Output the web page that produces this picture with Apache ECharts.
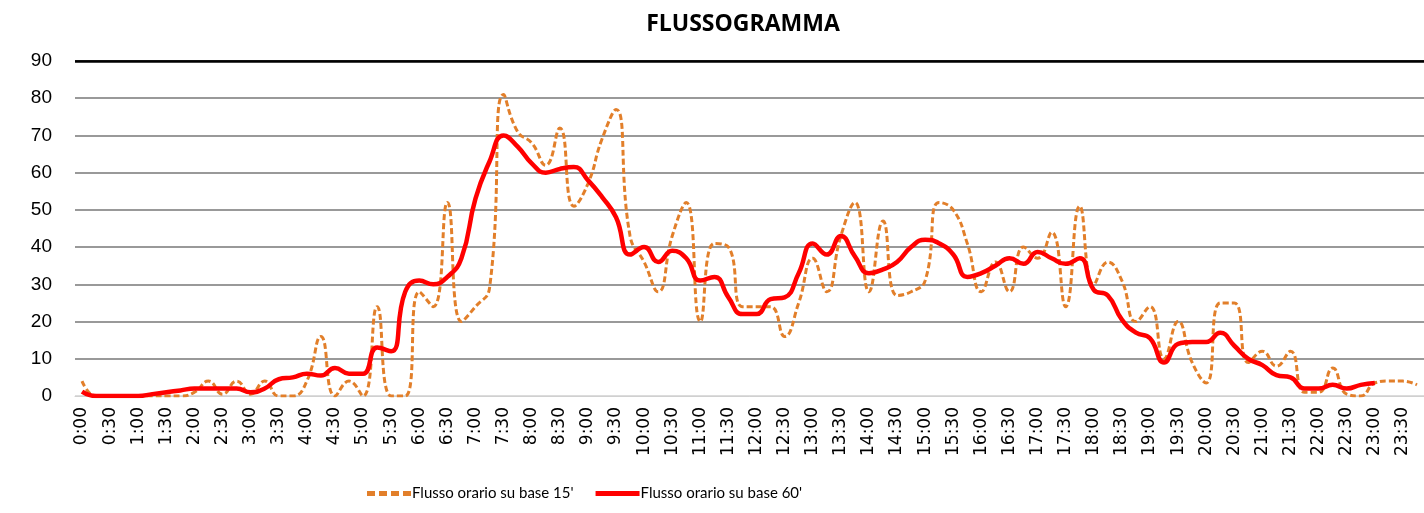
<!DOCTYPE html>
<html>
<head>
<meta charset="utf-8">
<script src="https://cdn.jsdelivr.net/npm/echarts@6/dist/echarts.min.js"></script>
<style>
  html, body { margin: 0; padding: 0; background: #fff; }
  #container { width: 1424px; height: 513px; }
</style>
</head>
<body>
<div id="container"></div>
<script>
var dom = document.getElementById("container");
var myChart = echarts.init(dom);

// orari ogni 15 minuti
var orari = [];
for (var h = 0; h < 24; h++) {
    ['00', '15', '30', '45'].forEach(function (m) { orari.push(h + ':' + m); });
}

var flusso15 = [
    4, 0, 0, 0, 0, 0, 0, 0, 1, 4, 0.5, 4, 0.5, 4, 0, 0,
    4, 16, 0, 4, 0, 24, 0, 0, 28, 24, 52, 20, 24, 29, 81, 71,
    68, 62, 72, 51, 57, 69, 77, 43, 36, 28, 43, 52, 20, 41, 40, 24,
    24, 24, 16, 25, 37, 28, 43, 52, 28, 47, 27, 28, 31, 52, 50, 41,
    28, 36, 28, 40, 37, 44, 24, 51, 30, 36, 31, 20, 24, 10, 20, 9,
    3.5, 25, 25, 9, 12, 8, 12, 1, 1, 7.5, 0.5, 0, 3.5, 4, 4, 3
];

var flusso60 = [
    1.2, 0, 0, 0, 0, 0.5, 1, 1.5, 2, 2, 2, 2, 1, 2, 4.5, 5,
    6, 5.5, 7.5, 6, 6, 13, 12, 28, 31, 30, 32, 37, 53, 63, 70, 67,
    62.5, 60, 61, 61.5, 58, 53.5, 48, 38, 40, 36, 39, 37, 31, 32, 26.5, 22,
    22, 26, 26.5, 33, 41, 38, 43, 37.5, 33, 34, 36, 40, 42, 41,
    38, 32, 33, 35, 37, 35.5, 38.7, 37, 35.5, 37, 28.5, 27, 20.5, 17,
    15.5, 9, 14, 14.5, 14.5, 17, 13.5, 10, 8.3, 5.6, 5, 2, 2, 3, 2, 3,
    3.5, null, null, null
];

var yTicks = [0, 10, 20, 30, 40, 50, 60, 70, 80, 90];

option = {
    backgroundColor: '#fff',
    animation: false,
    title: {
        text: 'FLUSSOGRAMMA',
        left: 738,
        textAlign: 'center',
        top: 8,
        textStyle: {
            fontFamily: 'Open Sans',
            fontWeight: 'bold',
            fontSize: 23,
            color: '#000'
        }
    },
    legend: {
        bottom: 7,
        left: 362,
        itemGap: 22,
        itemWidth: 44,
        itemHeight: 5,
        textStyle: {
            fontFamily: 'Lato',
            fontSize: 15,
            color: '#000',
            padding: [0, 0, 0, -4]
        },
        data: [{
            name: "Flusso orario su base 15'",
            icon: 'path://M0,0 h8 v5 h-8 Z M12,0 h8 v5 h-8 Z M24,0 h8 v5 h-8 Z M36,0 h8 v5 h-8 Z'
        }, {
            name: "Flusso orario su base 60'",
            icon: 'rect'
        }]
    },
    grid: {
        left: 75,
        right: -14,
        top: 61,
        bottom: 117
    },
    xAxis: {
        type: 'category',
        boundaryGap: true,
        data: orari,
        axisLine: { show: true, lineStyle: { color: '#d0d0d0', width: 1 } },
        axisTick: { show: false },
        axisLabel: {
            interval: 1,
            rotate: 90,
            margin: 11,
            fontFamily: 'DejaVu Sans',
            fontSize: 17,
            color: '#000'
        }
    },
    yAxis: {
        type: 'value',
        min: 0,
        max: 90,
        interval: 10,
        axisLine: { show: false },
        axisTick: { show: false },
        axisLabel: {
            margin: 23,
            fontFamily: 'Liberation Sans',
            fontSize: 19,
            color: '#000'
        },
        splitLine: {
            show: true,
            lineStyle: {
                color: ['#d0d0d0', '#777', '#777', '#777', '#777', '#777', '#777', '#777', '#777', '#000'],
                width: 1.5
            }
        }
    },
    series: [{
        name: "Flusso orario su base 15'",
        type: 'line',
        smooth: 0.5,
        showSymbol: false,
        z: 2,
        data: flusso15,
        itemStyle: { color: '#E27F2A' },
        lineStyle: {
            color: '#E27F2A',
            width: 3,
            type: [6, 3]
        },
        markLine: {
            silent: true,
            symbol: 'none',
            label: { show: false },
            lineStyle: { color: '#000', width: 2.5, type: 'solid' },
            data: [{ yAxis: yTicks[yTicks.length - 1] }]
        }
    }, {
        name: "Flusso orario su base 60'",
        type: 'line',
        smooth: 0.5,
        showSymbol: false,
        z: 3,
        data: flusso60,
        itemStyle: { color: '#FF0000' },
        lineStyle: {
            color: '#FF0000',
            width: 4.5
        }
    }]
};

if (option && typeof option === "object") {
    myChart.setOption(option, true);
}
</script>
</body>
</html>
